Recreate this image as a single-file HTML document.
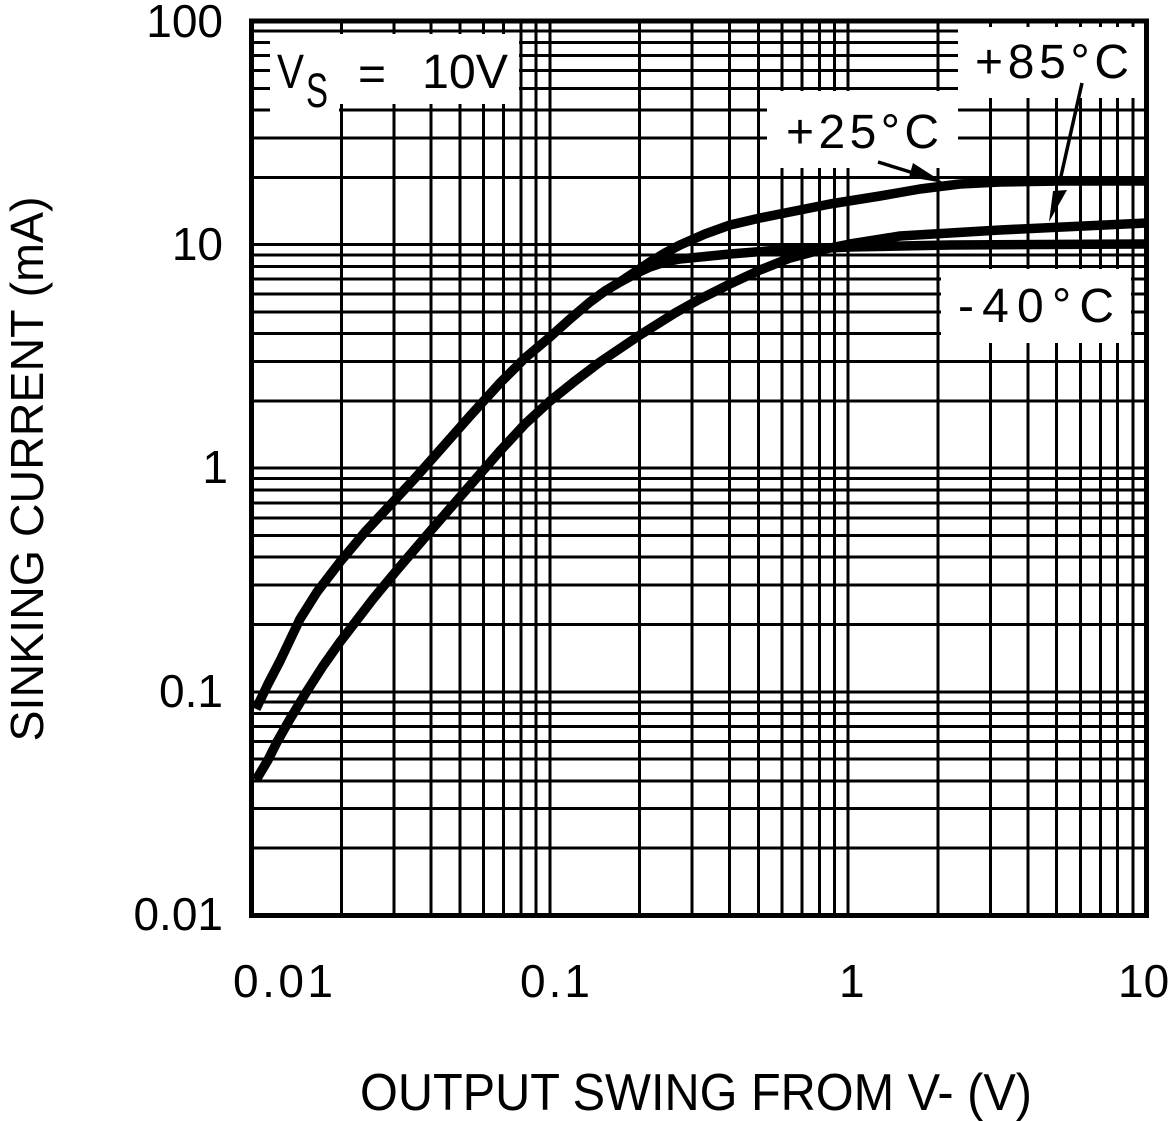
<!DOCTYPE html>
<html><head><meta charset="utf-8"><style>
html,body{margin:0;padding:0;background:#fff;}
svg{display:block;}
text{font-family:"Liberation Sans",sans-serif;fill:#000;}
</style></head><body>
<svg width="1170" height="1121" viewBox="0 0 1170 1121" xmlns="http://www.w3.org/2000/svg">
<rect x="0" y="0" width="1170" height="1121" fill="#fff"/>
<g stroke="#000" stroke-width="3" fill="none" shape-rendering="crispEdges">
<path d="M341.31 21V915 M393.84 21V915 M431.11 21V915 M460.02 21V915 M483.65 21V915 M503.62 21V915 M520.92 21V915 M536.18 21V915 M549.83 21V915 M639.64 21V915 M692.17 21V915 M729.44 21V915 M758.35 21V915 M781.98 21V915 M801.95 21V915 M819.25 21V915 M834.51 21V915 M848.16 21V915 M937.97 21V915 M990.5 21V915 M1027.77 21V915 M1056.68 21V915 M1080.31 21V915 M1100.28 21V915 M1117.58 21V915 M1132.84 21V915"/>
<path d="M251.5 31.23H1146.5 M251.5 42.67H1146.5 M251.5 55.64H1146.5 M251.5 70.61H1146.5 M251.5 88.31H1146.5 M251.5 109.98H1146.5 M251.5 137.92H1146.5 M251.5 177.29H1146.5 M251.5 244.6H1146.5 M251.5 254.83H1146.5 M251.5 266.27H1146.5 M251.5 279.24H1146.5 M251.5 294.21H1146.5 M251.5 311.91H1146.5 M251.5 333.58H1146.5 M251.5 361.52H1146.5 M251.5 400.89H1146.5 M251.5 468.2H1146.5 M251.5 478.43H1146.5 M251.5 489.87H1146.5 M251.5 502.84H1146.5 M251.5 517.81H1146.5 M251.5 535.51H1146.5 M251.5 557.18H1146.5 M251.5 585.12H1146.5 M251.5 624.49H1146.5 M251.5 691.8H1146.5 M251.5 702.03H1146.5 M251.5 713.47H1146.5 M251.5 726.44H1146.5 M251.5 741.41H1146.5 M251.5 759.11H1146.5 M251.5 780.78H1146.5 M251.5 808.72H1146.5 M251.5 848.09H1146.5"/>
</g>
<g fill="#fff" shape-rendering="crispEdges">
<rect x="270" y="34" width="249" height="70"/>
<rect x="270" y="100" width="69" height="12"/>
<rect x="958" y="27" width="186" height="71"/>
<rect x="767" y="91" width="191" height="77"/>
<rect x="941" y="269" width="190" height="74"/>
</g>
<g fill="none" stroke="#000" stroke-width="9.5" stroke-linejoin="round" stroke-linecap="butt">
<polyline points="256,709 268,684 280,661 290,640 300,619 317,592 340,562 365,532 393,502 417,476 440,450 470,416 500,383 525,358 550,337 570,319 590,302 605,291 620,282 635,274 650,267 665,262 680,259 700,257 730,254 780,250 850,247 950,245 1146,244"/>
<polyline points="620,282 635,272 650,262 665,253 680,245 705,234 730,225 760,218 780,214 830,204 880,196 920,189 960,184 1000,182 1060,181 1146,181"/>
<polyline points="256,780 268,760 277,742 290,719 307,691 323,666 340,642 373,599 397,570 433,528 473,482 500,451 525,424 550,401 575,381 600,362 640,335 675,313 700,299 730,284 760,270 790,258 820,250 850,244 900,236 1000,230 1146,223"/>
</g>
<g stroke="#000" stroke-width="3.5" fill="none">
<line x1="878" y1="162" x2="920" y2="175"/>
<line x1="1082" y1="83" x2="1059" y2="185"/>
</g>
<g fill="#000">
<polygon points="913,163 909,177 944,183"/>
<polygon points="1053,191 1067,190 1049,222"/>
</g>
<rect x="251.5" y="21" width="895" height="894.5" fill="none" stroke="#000" stroke-width="5" shape-rendering="crispEdges"/>

<g font-size="46">
<text x="223" y="37" text-anchor="end">100</text>
<text x="223" y="260" text-anchor="end">10</text>
<text x="228" y="483" text-anchor="end">1</text>
<text x="223" y="707" text-anchor="end">0.1</text>
<text x="223" y="930" text-anchor="end">0.01</text>
<text x="233" y="997" textLength="100" lengthAdjust="spacing">0.01</text>
<text x="520" y="997" textLength="70" lengthAdjust="spacing">0.1</text>
<text x="839" y="997">1</text>
<text x="1118" y="997">10</text>
</g>

<g font-size="48">
<text x="277" y="88" textLength="27" lengthAdjust="spacingAndGlyphs">V</text>
<text x="306" y="107" textLength="22" lengthAdjust="spacingAndGlyphs">S</text>
<text x="358" y="90" textLength="28" lengthAdjust="spacingAndGlyphs">=</text>
<text x="422" y="88" textLength="86" lengthAdjust="spacingAndGlyphs">10V</text>
<text x="975" y="78" textLength="154" lengthAdjust="spacing">+85°C</text>
<text x="786" y="148" textLength="153" lengthAdjust="spacing">+25°C</text>
<text x="958" y="322" textLength="156" lengthAdjust="spacing">-40°C</text>
</g>

<text x="360" y="1110" font-size="52" textLength="672" lengthAdjust="spacingAndGlyphs">OUTPUT SWING FROM V- (V)</text>
<text transform="translate(43,468.5) rotate(-90)" x="-273" y="0" font-size="46" textLength="545" lengthAdjust="spacingAndGlyphs">SINKING CURRENT (mA)</text>
</svg>
</body></html>
